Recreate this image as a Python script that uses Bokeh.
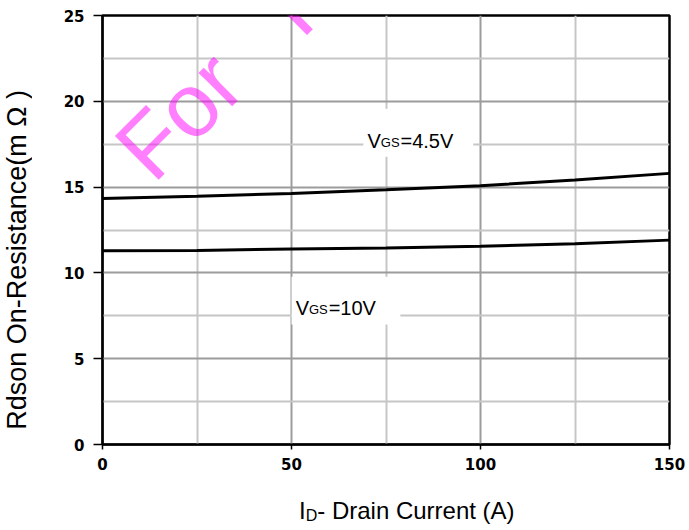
from bokeh.plotting import figure
from bokeh.models import Range1d, FixedTicker, Label, Div
from bokeh.layouts import column, row
from bokeh.embed import file_html
from bokeh.resources import INLINE

# ---- data ----
current = [0, 25, 50, 75, 100, 125, 150]
rds_vgs45 = [14.34, 14.46, 14.63, 14.85, 15.08, 15.41, 15.80]
rds_vgs10 = [11.29, 11.31, 11.39, 11.45, 11.56, 11.70, 11.91]
x_ticks = [0, 50, 100, 150]
x_minor = [25, 75, 125]
y_ticks = [0, 5, 10, 15, 20, 25]
y_minor = [2.5, 7.5, 12.5, 17.5, 22.5]

FONT = "Liberation Sans"
LEFT_W = 40

p = figure(width=689 - LEFT_W, height=480, output_backend="svg", toolbar_location=None,
           x_range=Range1d(0, 150), y_range=Range1d(0, 25),
           min_border_left=102 - LEFT_W, min_border_right=20, min_border_top=15,
           min_border_bottom=36, margin=0)
p.background_fill_color = "white"
p.border_fill_color = "white"
p.outline_line_color = "black"
p.outline_line_width = 2.5

p.xaxis.ticker = FixedTicker(ticks=x_ticks, minor_ticks=x_minor)
p.yaxis.ticker = FixedTicker(ticks=y_ticks, minor_ticks=y_minor)
p.xgrid.ticker = FixedTicker(ticks=x_ticks, minor_ticks=x_minor)
p.ygrid.ticker = FixedTicker(ticks=y_ticks, minor_ticks=y_minor)
for g in (p.xgrid, p.ygrid):
    g.grid_line_color = "#9c9c9c"
    g.grid_line_width = 2
    g.minor_grid_line_color = "#c6c6c6"
    g.minor_grid_line_width = 2

for ax in (p.xaxis, p.yaxis):
    ax.axis_line_color = "black"
    ax.axis_line_width = 2
    ax.major_tick_line_color = "black"
    ax.major_tick_line_width = 1.5
    ax.minor_tick_line_color = None
    ax.major_tick_in = 0
    ax.major_label_text_font = "DejaVu Sans"
    ax.major_label_text_font_style = "bold"
    ax.major_label_text_font_size = "15px"
    ax.major_label_text_color = "black"
p.yaxis.major_tick_out = 9
p.yaxis.major_label_standoff = 9
p.xaxis.major_tick_out = 5
p.xaxis.major_label_standoff = 8

# white boxes behind the curve labels
p.quad(left=[69.0], right=[98.1], bottom=[16.77], top=[19.57], fill_color="white", line_color=None)
p.quad(left=[50.0], right=[78.8], bottom=[7.0], top=[9.78], fill_color="white", line_color=None)

p.line(current, rds_vgs45, line_color="black", line_width=3)
p.line(current, rds_vgs10, line_color="black", line_width=3)


def add_sub_label(x, y, main, sub, rest):
    p.add_layout(Label(x=x, y=y, text=main, text_font=FONT, text_font_size="20px",
                       text_color="black", text_baseline="alphabetic"))
    p.add_layout(Label(x=x, y=y, x_offset=13.3, y_offset=-2, text=sub, text_font=FONT,
                       text_font_size="13px", text_color="black", text_baseline="alphabetic"))
    p.add_layout(Label(x=x, y=y, x_offset=33.0, text=rest, text_font=FONT, text_font_size="20px",
                       text_color="black", text_baseline="alphabetic"))


add_sub_label(70.1, 17.7, "V", "GS", "=4.5V")
add_sub_label(51.1, 7.96, "V", "GS", "=10V")

# watermark
for txt, sx, sy in (("For", 29.0, 281.4), ("Test", 166.0, 415.0)):
    p.add_layout(Label(x=sx, y=sy, x_units="screen", y_units="screen", text=txt,
                       angle=45, angle_units="deg", text_font=FONT, text_font_size="90px",
                       text_color="#ff00ff", text_alpha=0.5, text_baseline="alphabetic"))

# y axis title: vertical text reading bottom-to-top
ytitle = Div(width=LEFT_W, height=530, margin=0, text=(
    '<div style="padding-top:90px;">'
    '<div style="display:inline-block; writing-mode:vertical-rl; transform:rotate(180deg); '
    'line-height:34px; font-size:27px; '
    "font-family:'Liberation Sans',sans-serif; color:black; white-space:nowrap;\">"
    'Rdson On-Resistance(m \u03a9 )</div></div>'))

# x axis title with subscript
xtitle = Div(width=689 - LEFT_W, height=50, margin=0, text=(
    '<div style="padding-left:%dpx; padding-top:19px; line-height:24px; font-size:24px; '
    "font-family:'Liberation Sans',sans-serif; color:black; white-space:nowrap;\">"
    'I<span style="font-size:16px; position:relative; top:2px;">D</span>- Drain Current (A)</div>'
    % (299 - LEFT_W)))

layout = row(ytitle, column(p, xtitle, spacing=0, margin=0), spacing=0, margin=0)
open("out.html", "w").write(file_html(layout, INLINE))
